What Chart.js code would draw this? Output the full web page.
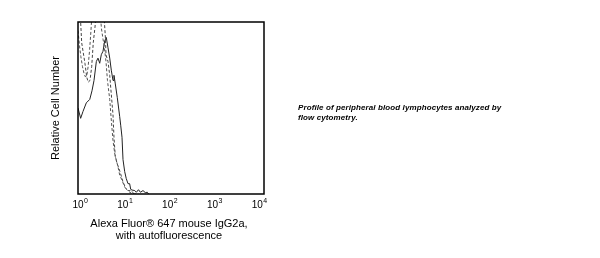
<!DOCTYPE html>
<html>
<head>
<meta charset="utf-8">
<script src="https://cdn.jsdelivr.net/npm/chart.js@4.4.1/dist/chart.umd.min.js"></script>
<style>
  body { margin: 0; background: #fff; }
  #wrap { position: relative; width: 600px; height: 258px; }
  #caption {
    position: absolute; left: 298px; top: 103px;
    font: italic bold 8px "Liberation Sans", Arial, sans-serif;
    letter-spacing: 0.1px;
    line-height: 10px; color: #000;
  }
</style>
</head>
<body>
<div id="wrap">
  <canvas id="chart1" width="600" height="258"></canvas>
  <div id="caption">Profile of peripheral blood lymphocytes analyzed by<br>flow cytometry.</div>
</div>
<script>
// fluorescence (x, log axis) and relative count (y, 0..1, >1 runs off the top)
let solidX = [1.0, 1.14, 1.28, 1.51, 1.79, 2.0, 2.21, 2.48, 2.69, 2.93, 3.17, 3.45, 3.75, 4.06, 4.42, 4.81, 5.20, 5.66, 5.94, 6.34, 7.0, 7.88, 8.28, 8.84, 9.29, 10.1, 10.9, 11.9, 12.9, 13.6, 14.5, 16.6, 18, 20, 22, 25, 28, 31, 33];
let solidY = [0.50, 0.44, 0.48, 0.53, 0.55, 0.60, 0.66, 0.77, 0.79, 0.76, 0.81, 0.83, 0.89, 0.91, 0.85, 0.79, 0.72, 0.66, 0.69, 0.64, 0.56, 0.45, 0.40, 0.33, 0.20, 0.13, 0.09, 0.06, 0.06, 0.027, 0.023, 0.02, 0.01, 0.025, 0.01, 0.02, 0.008, 0.01, 0];

let dashAX = [1.0, 1.14, 1.20, 1.30, 1.41, 1.54, 1.66, 1.81, 1.97, 2.13, 2.32, 2.56, 3.5, 3.7, 3.9, 4.0, 4.42, 4.81, 5.2, 5.66, 5.94, 6.34, 6.9, 8.0, 9.3, 10.8, 13, 15, 20];
let dashAY = [1.05, 1.0, 0.88, 0.82, 0.76, 0.68, 0.65, 0.66, 0.74, 0.88, 0.97, 1.1, 1.1, 1.0, 0.9, 0.81, 0.77, 0.69, 0.58, 0.46, 0.33, 0.217, 0.18, 0.13, 0.07, 0.03, 0.01, 0, 0];

let dashBX = [1.0, 1.08, 1.15, 1.25, 1.35, 1.45, 1.55, 1.65, 1.78, 1.9, 2.0, 3.0, 3.2, 3.45, 3.62, 4.0, 4.3, 4.81, 5.2, 5.66, 6.2, 7.24, 7.88, 8.84, 10.1, 11.9, 14, 16];
let dashBY = [0.95, 0.86, 0.80, 0.74, 0.70, 0.68, 0.69, 0.74, 0.84, 0.95, 1.05, 1.05, 0.96, 0.90, 0.87, 0.77, 0.66, 0.55, 0.43, 0.31, 0.23, 0.159, 0.11, 0.08, 0.04, 0.02, 0.02, 0];

let tickValues = [1, 10, 100, 1000, 10000];
let tickExp = ['0', '1', '2', '3', '4'];
let xTitle = ['Alexa Fluor® 647 mouse IgG2a,', 'with autofluorescence'];
let yTitle = 'Relative Cell Number';

function pts(xs, ys) {
    return xs.map((x, i) => ({ x: x, y: ys[i] }));
}

const font = '"Liberation Sans", Arial, sans-serif';

// frame, 10^n labels and axis titles
const frame = {
    id: 'frame',
    afterDraw(chart) {
        const ctx = chart.ctx;
        const a = chart.chartArea;
        const xs = chart.scales.x;
        ctx.save();
        ctx.strokeStyle = '#000';
        ctx.lineWidth = 1.5;
        ctx.strokeRect(a.left, a.top, a.right - a.left, a.bottom - a.top);

        ctx.fillStyle = '#000';
        ctx.textAlign = 'left';
        for (let i = 0; i < tickValues.length; i++) {
            const px = xs.getPixelForValue(tickValues[i]);
            const left = px - 5.5 - 1.7 * i; // labels sit a little left of the ticks
            ctx.font = '10px ' + font;
            const w = ctx.measureText('10').width;
            ctx.fillText('10', left, a.bottom + 14);
            ctx.font = '7px ' + font;
            ctx.fillText(tickExp[i], left + w + 0.5, a.bottom + 9);
        }

        ctx.font = '11px ' + font;
        ctx.textAlign = 'center';
        const cx = (a.left + a.right) / 2 - 2;
        ctx.fillText(xTitle[0], cx, a.bottom + 33);
        ctx.fillText(xTitle[1], cx, a.bottom + 45);

        ctx.translate(a.left - 19, (a.top + a.bottom) / 2);
        ctx.rotate(-Math.PI / 2);
        ctx.fillText(yTitle, 0, 0);
        ctx.restore();
    }
};

const ctx = document.getElementById('chart1').getContext('2d');
const chart = new Chart(ctx, {
    type: 'line',
    data: {
        datasets: [{
            data: pts(dashBX, dashBY),
            borderColor: '#555',
            borderWidth: 1,
            borderDash: [3, 2],
            pointRadius: 0,
            tension: 0
        }, {
            data: pts(dashAX, dashAY),
            borderColor: '#444',
            borderWidth: 1,
            borderDash: [3, 2],
            pointRadius: 0,
            tension: 0
        }, {
            data: pts(solidX, solidY),
            borderColor: '#222',
            borderWidth: 1,
            pointRadius: 0,
            tension: 0
        }]
    },
    options: {
        responsive: false,
        animation: false,
        devicePixelRatio: 1,
        layout: { padding: { left: 78, top: 22, right: 336, bottom: 64 } },
        plugins: { legend: { display: false }, tooltip: { enabled: false } },
        scales: {
            x: { type: 'logarithmic', min: 1, max: 10000, display: false },
            y: { type: 'linear', min: 0, max: 1, display: false }
        }
    },
    plugins: [frame]
});
</script>
</body>
</html>
